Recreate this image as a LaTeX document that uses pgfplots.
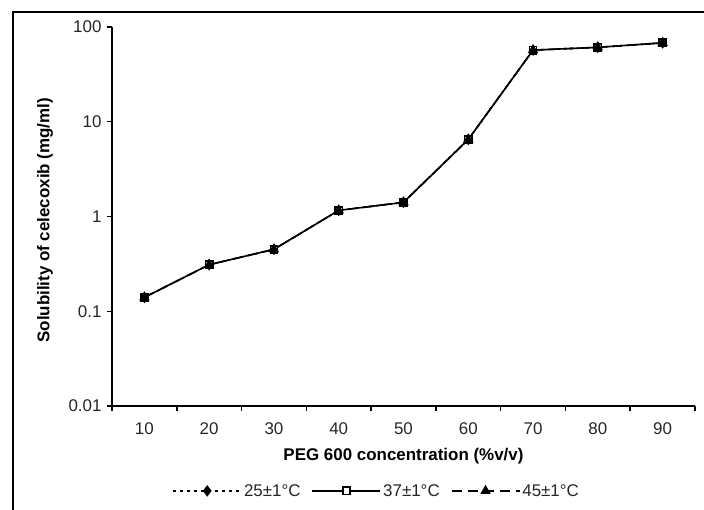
\documentclass[border=0pt]{standalone}
\usepackage{pgfplots}
\pgfplotsset{compat=1.18}
\usepackage{fontspec}
\setmainfont{Liberation Sans}
\begin{document}
\begin{tikzpicture}
\useasboundingbox (0bp,0bp) rectangle (704bp,510bp);
\draw[line width=2bp] (13bp,0bp) -- (13bp,498bp) -- (704bp,498bp);
\begin{axis}[
  at={(112bp,104bp)}, anchor=south west,
  scale only axis, width=583bp, height=379bp,
  ymode=log, ymin=0.01, ymax=100,
  xmin=0.5, xmax=9.5,
  axis x line=bottom, axis y line=left,
  axis line style={-, line width=2.2bp, black},
  xtick={1,2,3,4,5,6,7,8,9},
  xticklabels={10,20,30,40,50,60,70,80,90},
  minor xtick={0.5,1.5,2.5,3.5,4.5,5.5,6.5,7.5,8.5,9.5},
  major x tick style={draw=none},
  ytick={0.01,0.1,1,10,100},
  yticklabels={0.01,0.1,1,10,100},
  yminorticks=false,
  tick align=outside,
  major tick length=5bp, minor tick length=5bp,
  every tick/.style={black, line width=1.5bp},
  /pgf/number format/assume math mode=true,
  tick label style={font=\fontsize{17}{20}\selectfont, text=black!85},
  xticklabel style={yshift=-8bp},
  yticklabel style={xshift=-2bp},
  xlabel={PEG 600 concentration (\%v/v)},
  ylabel={Solubility of celecoxib (mg/ml)},
  xlabel style={font=\bfseries\fontsize{17}{20}\selectfont, at={(axis description cs:0.5,-0.131)}, anchor=center},
  ylabel style={font=\bfseries\fontsize{17}{20}\selectfont, at={(axis description cs:-0.115,0.49)}, anchor=center},
  legend style={at={(0.454,-0.224)}, anchor=center, draw=none, legend columns=3,
    font=\fontsize{17}{20}\selectfont, text=black!85, inner sep=0pt,
    /tikz/every odd column/.append style={column sep=0bp},
    /tikz/every even column/.append style={column sep=9bp}},
  legend image code/.code={\draw[mark repeat=2,mark phase=2,#1] plot coordinates {(0bp,0bp) (34bp,0bp) (68bp,0bp)};},
  clip=false,
]
\addplot[black, line width=1.6bp, dash pattern=on 3bp off 4bp, mark=diamond*, mark size=4.5bp, mark options={solid, fill=black}]
  coordinates {(1,0.14) (2,0.31) (3,0.45) (4,1.16) (5,1.41) (6,6.5) (7,57) (8,61) (9,68)};
\addlegendentry{25±1°C}
\addplot[black, line width=1.6bp, mark=square*, mark size=3.6bp, mark options={solid, fill=white}]
  coordinates {(1,0.14) (2,0.31) (3,0.45) (4,1.16) (5,1.41) (6,6.5) (7,57) (8,61) (9,68)};
\addlegendentry{37±1°C}
\addplot[black, line width=1.6bp, dash pattern=on 10bp off 6bp, mark=triangle*, mark size=4.5bp, mark options={solid, fill=black}]
  coordinates {(1,0.14) (2,0.31) (3,0.45) (4,1.16) (5,1.41) (6,6.5) (7,57) (8,61) (9,68)};
\addlegendentry{45±1°C}
\end{axis}
\end{tikzpicture}
\end{document}
